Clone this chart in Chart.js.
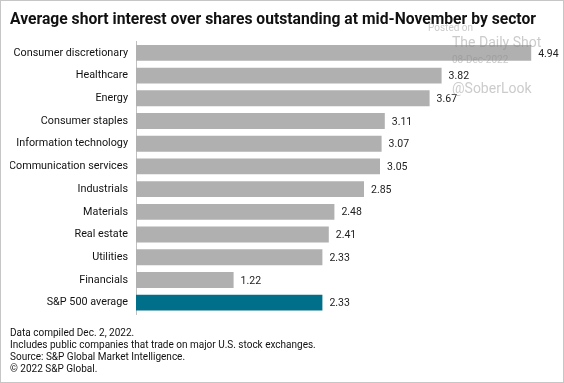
<!DOCTYPE html>
<html><head><meta charset="utf-8">
<script src="https://cdn.jsdelivr.net/npm/chart.js@4/dist/chart.umd.min.js"></script>
<style>
html,body{margin:0;padding:0;background:#fff;}
#wrap{width:564px;height:383px;position:relative;}
</style></head>
<body><div id="wrap"><canvas id="c" width="564" height="383"></canvas></div>
<script>
const categories = ["Consumer discretionary","Healthcare","Energy","Consumer staples","Information technology","Communication services","Industrials","Materials","Real estate","Utilities","Financials","S&P 500 average"];
const values = [4.94,3.82,3.67,3.11,3.07,3.05,2.85,2.48,2.41,2.33,1.22,2.33];
const barColors = values.map((v,i)=> i===values.length-1 ? "#006f89" : "#b0b0b0");
const titleText = "Average short interest over shares outstanding at mid-November by sector";
const footerLines = ["Data compiled Dec. 2, 2022.","Includes public companies that trade on major U.S. stock exchanges.","Source: S&P Global Market Intelligence.","\u00a9 2022 S&P Global."];

const FONT = "Roboto, 'Liberation Sans', sans-serif";

const valueLabels = {
  id:'valueLabels',
  afterDatasetsDraw(chart){
    const ctx = chart.ctx;
    const meta = chart.getDatasetMeta(0);
    ctx.save();
    ctx.font = "10.5px " + FONT;
    ctx.fillStyle = "#222";
    ctx.textBaseline = "middle";
    ctx.textAlign = "left";
    meta.data.forEach((bar,i)=>{
      ctx.fillText(values[i].toFixed(2), bar.x + 7, bar.y + 1);
    });
    ctx.restore();
  }
};
const frame = {
  id:'frame',
  afterDraw(chart){
    const ctx = chart.ctx;
    ctx.save();
    ctx.strokeStyle = "#c6c6c6";
    ctx.lineWidth = 1;
    ctx.strokeRect(0.5,0.5,chart.width-1,chart.height-1);
    ctx.fillStyle = "rgba(140,140,140,0.45)";
    ctx.textBaseline = "middle";
    ctx.textAlign = "left";
    ctx.font = "10px " + FONT;
    ctx.fillText("Posted on", 428, 28);
    ctx.font = "14px " + FONT;
    ctx.fillText("The Daily Shot", 452, 43);
    ctx.font = "10px " + FONT;
    ctx.fillText("08-Dec-2022", 452, 60);
    ctx.font = "14px " + FONT;
    ctx.fillText("@SoberLook", 452, 89);
    ctx.restore();
  }
};

new Chart(document.getElementById('c'), {
  type:'bar',
  data:{ labels:categories, datasets:[{ data:values, backgroundColor:barColors, borderWidth:0, barPercentage:0.7, categoryPercentage:1.0 }]},
  options:{
    indexAxis:'y',
    responsive:false,
    animation:false,
    devicePixelRatio:1,
    layout:{ padding:{ left:10, right:28, top:0, bottom:0 } },
    plugins:{
      legend:{display:false},
      tooltip:{enabled:false},
      title:{ display:true, text:titleText, align:'start', color:'#111', font:{family:FONT, size:16.3, weight:'bold'}, padding:{top:10,bottom:12} },
      subtitle:{ display:true, position:'bottom', align:'start', text:footerLines, color:'#111', font:{family:FONT, size:10, lineHeight:1.2}, padding:{top:13,bottom:8} }
    },
    scales:{
      x:{ display:false, min:0, max:5 },
      y:{
        grid:{display:false, drawTicks:false},
        border:{display:true, color:'#c0c0c0', width:1},
        ticks:{ color:'#111', font:{family:FONT, size:10.8}, padding:8 },
        afterFit(scale){ scale.width = 126; }
      }
    }
  },
  plugins:[valueLabels, frame]
});
</script></body></html>
